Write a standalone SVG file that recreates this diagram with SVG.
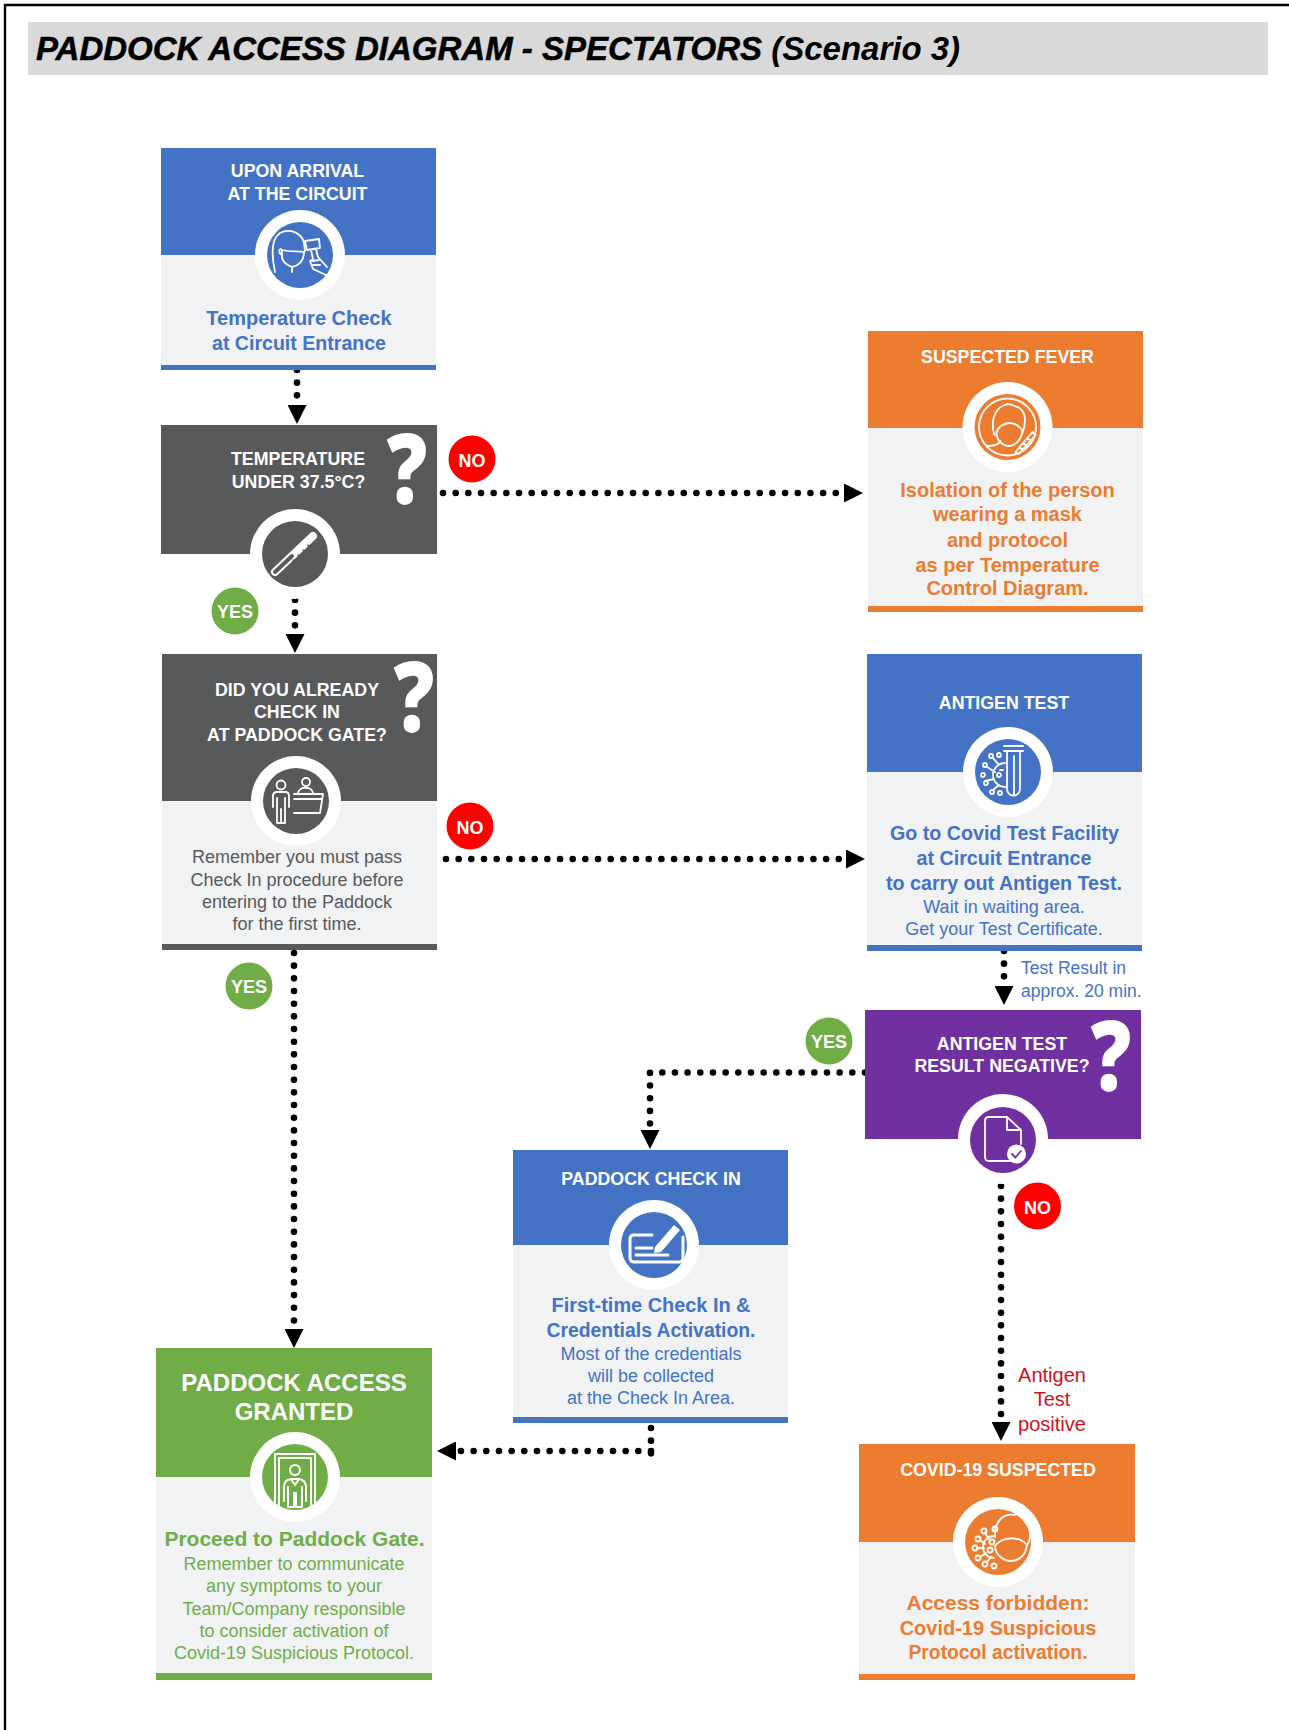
<svg xmlns="http://www.w3.org/2000/svg" width="1289" height="1730" viewBox="0 0 1289 1730">
<style>
text{font-family:"Liberation Sans",Arial,sans-serif;text-anchor:middle}
.h{font-size:17.8px;font-weight:700;fill:#fff}
.b{font-size:20px;font-weight:700}
.r{font-size:18px}
.blue{fill:#4472c4}.org{fill:#eb7c30}.grn{fill:#70ad47}.gry{fill:#58595b}.pur{fill:#7030a0}
.body{fill:#f0f2f4}
.white{fill:#fff}
.badge{font-size:18px;font-weight:700;fill:#fff}
.q{font-family:"Open Sans",sans-serif;font-size:98px;font-weight:800;fill:#fff}
.ic{fill:none;stroke:#fff;stroke-width:1.8;stroke-linecap:round;stroke-linejoin:round}
.dots{fill:none;stroke:#000;stroke-width:6.6;stroke-linecap:round;stroke-dasharray:0 12.67}
</style>
<defs>
<marker id="ah" viewBox="0 0 19 19" refX="0" refY="9.5" markerWidth="19" markerHeight="19" markerUnits="userSpaceOnUse" orient="auto"><path d="M0 0L19 9.5L0 19Z" fill="#000"/></marker>
</defs>
<rect width="1289" height="1730" fill="#fff"/>
<path d="M1289 5H5V1730" fill="none" stroke="#000" stroke-width="2.4"/>
<g id="title">
<rect x="28" y="22" width="1240" height="53" fill="#d9d9d9"/>
<text x="36" y="60" style="text-anchor:start;font-size:33px;font-weight:700;font-style:italic;stroke:#000;stroke-width:.5" fill="#000">PADDOCK ACCESS DIAGRAM - SPECTATORS <tspan style="stroke:none">(Scenario 3)</tspan></text>
</g>
<g id="connectors">
<path class="dots" marker-end="url(#ah)" d="M297 370V405"/>
<path class="dots" marker-end="url(#ah)" d="M295 600V634"/>
<path class="dots" marker-end="url(#ah)" d="M294 953V1329"/>
<path class="dots" marker-end="url(#ah)" d="M443 493H844"/>
<path class="dots" marker-end="url(#ah)" d="M446 859H846"/>
<path class="dots" marker-end="url(#ah)" d="M1004 951V986"/>
<path class="dots" marker-end="url(#ah)" d="M865 1072.5H650V1130"/>
<path class="dots" marker-end="url(#ah)" d="M1001 1186V1422"/>
<path class="dots" d="M651 1428V1454"/>
<path class="dots" marker-end="url(#ah)" d="M651 1451H456"/>
</g>
<g id="n-arrival">
<rect class="blue" x="161" y="148" width="275" height="107"/><rect class="body" x="161" y="255" width="275" height="110"/><rect class="blue" x="161" y="365" width="275" height="5"/>
<circle class="white" cx="300" cy="255" r="45"/><circle class="blue" cx="300" cy="255" r="33"/>
<g class="ic" transform="translate(300 255)"><path d="M-25 17C-29 -2 -29 -16 -20 -22C-10 -27 2 -22 4 -12L5 -4M-18 -5C-10 -3 -3 -4 4 -3C4 5 1 10 -8 12C-13 10 -17 7 -18 3ZM-8 12V17M-18 -5C-21 -8 -22 -2 -18 0"/><path d="M5 -14L19 -16L20 -7L7 -5ZM11 -5L13 4L10 6L13 14L28 21M16 -6L18 2L27 12M12 6L19 5M13 10L20 10"/></g>
<text class="h" x="297.500" y="177">UPON ARRIVAL</text><text class="h" x="297.500" y="199.500">AT THE CIRCUIT</text>
<text class="b blue" x="299" y="325">Temperature Check</text><text class="b blue" x="299" y="350" textLength="174" lengthAdjust="spacingAndGlyphs">at Circuit Entrance</text>
</g>
<g id="n-temp">
<rect class="gry" x="161" y="425" width="276" height="129"/>
<circle class="white" cx="295" cy="554" r="45"/><circle class="gry" cx="295" cy="554" r="33"/>
<g transform="translate(295 554)" fill="none" stroke-linecap="round"><path d="M-20 18L18 -18" stroke="#fff" stroke-width="8"/><path d="M-20 18L-3 2" stroke="#58595b" stroke-width="4"/><path d="M-2 6L1 9M3 1L6 4M8 -4L11 -1M13 -9L16 -6" stroke="#58595b" stroke-width="1.5"/></g>
<text class="h" x="298" y="465">TEMPERATURE</text><text class="h" x="298.500" y="487.500">UNDER 37.5°C?</text>
<text class="q" transform="translate(407 504) scale(.82 1)">?</text>
</g>
<g id="n-no1"><circle cx="472" cy="459" r="23.5" fill="#fe0000"/><text class="badge" x="472" y="467">NO</text></g>
<g id="n-yes1"><circle class="grn" cx="235" cy="611" r="23.5"/><text class="badge" x="235" y="618">YES</text></g>
<g id="n-fever">
<rect class="org" x="868" y="331" width="275" height="97"/><rect class="body" x="868" y="428" width="275" height="178"/><rect class="org" x="868" y="606" width="275" height="6"/>
<circle class="white" cx="1007.500" cy="427" r="45"/><circle class="org" cx="1007.500" cy="427" r="33"/>
<g class="ic" transform="translate(1007.500 427)"><circle r="28.5"/><path d="M-13 8C-17 -4 -14 -18 -3 -22C3 -25 7 -20 10 -20C17 -17 20 -8 15 6M-11 6C-10 0 -4 -4 2 -4C8 -4 13 0 15 4C14 12 9 18 2 19C-5 19 -11 13 -11 6ZM-20 19C-13 19 -9 18 -7 14"/><path d="M8 25L25 5L28 8L11 27ZM12 20L15 23M16 16L19 19M20 11L23 14"/></g>
<text class="h" x="1007.500" y="362.500">SUSPECTED FEVER</text>
<text class="b org" x="1007.500" y="497">Isolation of the person</text><text class="b org" x="1007.500" y="521">wearing a mask</text><text class="b org" x="1007.500" y="547">and protocol</text><text class="b org" x="1007.500" y="572">as per Temperature</text><text class="b org" x="1007.500" y="595">Control Diagram.</text>
</g>
<g id="n-checkin-q">
<rect class="gry" x="162" y="654" width="275" height="147"/><rect class="body" x="162" y="801" width="275" height="143"/><rect class="gry" x="162" y="944" width="275" height="6"/>
<circle class="white" cx="296" cy="801" r="45"/><circle class="gry" cx="296" cy="801" r="33"/>
<g class="ic" transform="translate(296 801)"><circle cx="-15" cy="-16" r="4.5"/><path d="M-19 -9H-11Q-7 -9 -7 -5V6M-19 -9Q-23 -9 -23 -5V6M-19 -3V22H-15V8V22H-11V-3"/><circle cx="10" cy="-19" r="4"/><path d="M2 -8C3 -15 16 -15 17 -8M-2 -7H27L24 12H-2M-2 -2H26"/></g>
<text class="h" x="297" y="695.500">DID YOU ALREADY</text><text class="h" x="297" y="718">CHECK IN</text><text class="h" x="297" y="740.500">AT PADDOCK GATE?</text>
<text class="q" transform="translate(414 732) scale(.82 1)">?</text>
<text class="r gry" x="297" y="863">Remember you must pass</text><text class="r gry" x="297" y="885.500">Check In procedure before</text><text class="r gry" x="297" y="908">entering to the Paddock</text><text class="r gry" x="297" y="930">for the first time.</text>
</g>
<g id="n-no2"><circle cx="470" cy="826" r="23.5" fill="#fe0000"/><text class="badge" x="470" y="834">NO</text></g>
<g id="n-yes2"><circle class="grn" cx="249" cy="986" r="23.5"/><text class="badge" x="249" y="993">YES</text></g>
<g id="n-antigen">
<rect class="blue" x="867" y="654" width="275" height="118"/><rect class="body" x="867" y="772" width="275" height="173"/><rect class="blue" x="867" y="945" width="275" height="6"/>
<circle class="white" cx="1008" cy="772" r="45"/><circle class="blue" cx="1008" cy="772" r="33"/>
<g class="ic" transform="translate(1008 772)"><path d="M-4 -26H15M-4 -21H15M-1 -21V17A6.500 6.500 0 0 0 12 17V-21M6 -16V22"/><path d="M-3 -9A12 12 0 0 0 -3 15M-9 -7L-15 -14M-13 0L-21 -5M-14 7L-23 9M-9 13L-15 18M-5 -2H-8"/><circle cx="-17" cy="-16" r="2"/><circle cx="-9" cy="-17" r="2"/><circle cx="-23" cy="-7" r="2"/><circle cx="-25" cy="3" r="2"/><circle cx="-22" cy="11" r="2"/><circle cx="-16" cy="20" r="2"/><circle cx="-8" cy="21" r="2"/><circle cx="-9" cy="3" r="2"/></g>
<text class="h" x="1004" y="709">ANTIGEN TEST</text>
<text class="b blue" x="1004.500" y="840" textLength="229" lengthAdjust="spacingAndGlyphs">Go to Covid Test Facility</text><text class="b blue" x="1004" y="865" textLength="175" lengthAdjust="spacingAndGlyphs">at Circuit Entrance</text><text class="b blue" x="1004" y="890" textLength="236" lengthAdjust="spacingAndGlyphs">to carry out Antigen Test.</text><text class="r blue" x="1004" y="913">Wait in waiting area.</text><text class="r blue" x="1004" y="935">Get your Test Certificate.</text>
</g>
<g id="l-result"><text class="r blue" style="text-anchor:start;font-size:17.5px" x="1021" y="974">Test Result in</text><text class="r blue" style="text-anchor:start;font-size:17.5px" x="1021" y="996.500">approx. 20 min.</text></g>
<g id="n-negative">
<rect class="pur" x="865" y="1010" width="276" height="129"/>
<circle class="white" cx="1003" cy="1139" r="45"/><circle class="pur" cx="1003" cy="1140" r="33"/>
<g class="ic" transform="translate(1003 1140)"><path d="M8 21H-14Q-18 21 -18 17V-19Q-18 -23 -14 -23H4L18 -10V4M4 -23V-10H18"/><circle cx="13.500" cy="14" r="9.500" style="fill:#fff;stroke:none"/><path d="M9 14L12.500 17.500L18 11" style="stroke:#7030a0"/></g>
<text class="h" x="1002" y="1050">ANTIGEN TEST</text><text class="h" x="1002" y="1072">RESULT NEGATIVE?</text>
<text class="q" transform="translate(1111 1091) scale(.82 1)">?</text>
</g>
<g id="n-yes3"><circle class="grn" cx="829" cy="1041" r="23.5"/><text class="badge" x="829" y="1048">YES</text></g>
<g id="n-no3"><circle cx="1037.5" cy="1206" r="23.5" fill="#fe0000"/><text class="badge" x="1037.5" y="1214">NO</text></g>
<g id="n-paddock-checkin">
<rect class="blue" x="513" y="1150" width="275" height="95"/><rect class="body" x="513" y="1245" width="275" height="172"/><rect class="blue" x="513" y="1417" width="275" height="6"/>
<circle class="white" cx="654" cy="1245" r="45"/><circle class="blue" cx="654" cy="1245" r="33"/>
<g class="ic" transform="translate(654 1245)" style="stroke-width:3"><path d="M-2 -10H-20Q-24 -10 -24 -6V12Q-24 17 -20 17H25Q29 17 29 13V-8M-18 3H-2M-18 10H14"/><path d="M1 2L20 -20L26 -15L7 7L0 8Z" style="fill:#fff;stroke:none"/></g>
<text class="h" x="651" y="1185">PADDOCK CHECK IN</text>
<text class="b blue" x="651" y="1312" textLength="199" lengthAdjust="spacingAndGlyphs">First-time Check In &amp;</text><text class="b blue" x="651" y="1337" textLength="209" lengthAdjust="spacingAndGlyphs">Credentials Activation.</text><text class="r blue" x="651" y="1360">Most of the credentials</text><text class="r blue" x="651" y="1382">will be collected</text><text class="r blue" x="651" y="1404">at the Check In Area.</text>
</g>
<g id="n-granted">
<rect class="grn" x="156" y="1348" width="276" height="129"/><rect class="body" x="156" y="1477" width="276" height="196"/><rect class="grn" x="156" y="1673" width="276" height="7"/>
<circle class="white" cx="295" cy="1477" r="45"/><circle class="grn" cx="295" cy="1477" r="33"/>
<g class="ic" transform="translate(295 1477)" style="stroke-width:2"><path d="M-20 26V-23H20V26M-16 28V-19H16V28"/><circle cy="-7" r="5"/><path d="M-11 24V10Q-11 3 -4 2H4Q11 3 11 10V24M-7 10V30H-1V16H1V30H7V10M-4 2L0 8L4 2"/></g>
<text x="294" y="1391" style="font-size:24px;font-weight:700;fill:#fff">PADDOCK ACCESS</text><text x="294" y="1420" style="font-size:24px;font-weight:700;fill:#fff">GRANTED</text>
<text class="b grn" x="294.500" y="1546" style="font-size:21px">Proceed to Paddock Gate.</text><text class="r grn" x="294" y="1569.500">Remember to communicate</text><text class="r grn" x="294" y="1592">any symptoms to your</text><text class="r grn" x="294" y="1614.500">Team/Company responsible</text><text class="r grn" x="294" y="1636.500">to consider activation of</text><text class="r grn" x="294" y="1659">Covid-19 Suspicious Protocol.</text>
</g>
<g id="l-positive" style="font-size:20px"><text x="1052" y="1382" fill="#d0121b">Antigen</text><text x="1052" y="1406" fill="#d0121b">Test</text><text x="1052" y="1431" fill="#d0121b">positive</text></g>
<g id="n-covid">
<rect class="org" x="859" y="1444" width="276" height="98"/><rect class="body" x="859" y="1542" width="276" height="132"/><rect class="org" x="859" y="1674" width="276" height="6"/>
<circle class="white" cx="998" cy="1542" r="45"/><circle class="org" cx="998" cy="1542" r="33"/>
<g class="ic" transform="translate(998 1542)"><path d="M-3 -12C0 -24 8 -29 16 -27C22 -30 32 -22 31 -14C33 -8 32 0 29 3M29 3C28 13 21 19 13 19C5 19 -3 12 -3 4C4 -5 20 -7 29 3Z"/><path d="M-4 -6A11 11 0 0 0 -4 16M-9 -3L-13 -9M-13 2L-18 -2M-14 6L-21 6M-12 11L-18 15M-7 15L-11 20M-3 -5L-3 -11"/><circle cx="-14" cy="-11" r="2.500"/><circle cx="-3" cy="-13" r="2.500"/><circle cx="-20" cy="-3" r="2.500"/><circle cx="-23" cy="6" r="2.500"/><circle cx="-20" cy="16" r="2.500"/><circle cx="-13" cy="22" r="2.500"/><circle cx="-4" cy="24" r="2.500"/><circle cx="-8" cy="8" r="2.500"/><circle cx="-6" cy="0" r="2.500"/></g>
<text class="h" x="998" y="1476">COVID-19 SUSPECTED</text>
<text class="b org" x="998" y="1610" textLength="183" lengthAdjust="spacingAndGlyphs">Access forbidden:</text><text class="b org" x="998" y="1634.500">Covid-19 Suspicious</text><text class="b org" x="998" y="1659" textLength="179" lengthAdjust="spacingAndGlyphs">Protocol activation.</text>
</g>
</svg>
